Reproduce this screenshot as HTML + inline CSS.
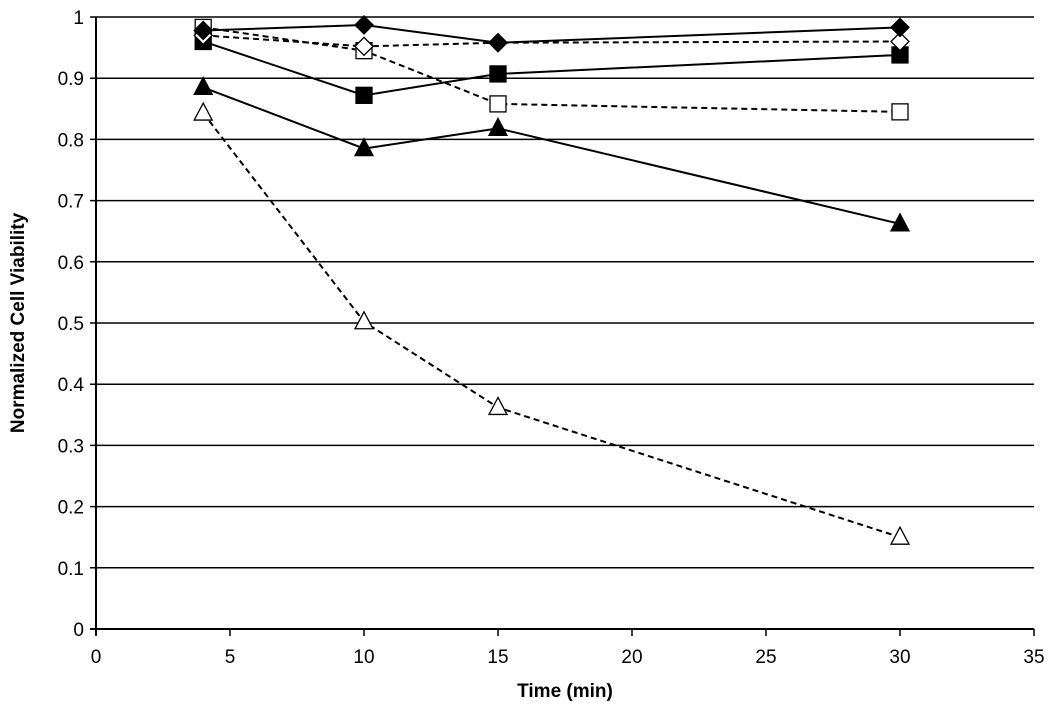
<!DOCTYPE html>
<html><head><meta charset="utf-8"><style>
body{margin:0;background:#fff}
svg{display:block;font-family:"Liberation Sans",Arial,sans-serif}
</style></head><body>
<svg id="chart" width="1050" height="723"></svg>
<script>
const xTicks=[0,5,10,15,20,25,30,35];
const yTicks=[0,0.1,0.2,0.3,0.4,0.5,0.6,0.7,0.8,0.9,1];
const times=[4,10,15,30];
const filledDiamond=[0.978,0.987,0.958,0.983];
const openDiamond=[0.970,0.952,0.958,0.960];
const filledSquare=[0.960,0.872,0.907,0.938];
const openSquare=[0.983,0.945,0.858,0.845];
const filledTriangle=[0.885,0.785,0.818,0.662];
const openTriangle=[0.843,0.502,0.362,0.150];
const NS="http://www.w3.org/2000/svg";
const svg=document.getElementById('chart');
const X0=96,X1=1034,Y0=629,Y1=17;
const xs=v=>X0+(v-0)/35*(X1-X0);
const ys=v=>Y0-(v-0)/1*(Y0-Y1);
function mk(tag,attrs,parent){const e=document.createElementNS(NS,tag);for(const k in attrs)e.setAttribute(k,attrs[k]);(parent||svg).appendChild(e);return e;}
// grid
yTicks.forEach(t=>{
  const l=mk('line',{x1:X0-6,x2:X1,y1:ys(t),y2:ys(t),stroke:'#000','stroke-width':t===0?2:1.5});
  
  
  const tx=mk('text',{x:X0-12,y:ys(t)+7,'text-anchor':'end','font-size':19});
  tx.textContent=t===0||t===1?String(t):t.toFixed(1);
  
  
});
const ax=mk('line',{x1:X0,x2:X0,y1:Y1,y2:Y0+6,stroke:'#000','stroke-width':2});


xTicks.forEach(t=>{
  const l=mk('line',{x1:xs(t),x2:xs(t),y1:Y0,y2:Y0+7,stroke:'#000','stroke-width':1.5});
  
  
  const tx=mk('text',{x:xs(t),y:Y0+34,'text-anchor':'middle','font-size':19});
  tx.textContent=t;
  
  
});
const xl=mk('text',{x:565,y:697,'text-anchor':'middle','font-size':19,'font-weight':'bold'});
xl.textContent='Time (min)';


const yl=mk('text',{x:0,y:0,'text-anchor':'middle','font-size':19,'font-weight':'bold',transform:'translate(24,323) rotate(-90)'});
yl.textContent='Normalized Cell Viability';



function marker(shape,fill,x,y,g){
  const s=fill?'#000':'#fff';
  if(shape==='d')return mk('polygon',{points:`${x},${y-9} ${x+9},${y} ${x},${y+9} ${x-9},${y}`,fill:s,stroke:'#000','stroke-width':1.3},g);
  if(shape==='s')return mk('rect',{x:x-8,y:y-8,width:16,height:16,fill:s,stroke:'#000','stroke-width':1.3},g);
  return mk('polygon',{points:`${x},${y-10} ${x+9},${y+7} ${x-9},${y+7}`,fill:s,stroke:'#000','stroke-width':1.3},g);
}
const series=[
 ['open-triangle',openTriangle,'t',false,true],
 ['filled-triangle',filledTriangle,'t',true,false],
 ['open-square',openSquare,'s',false,true],
 ['filled-square',filledSquare,'s',true,false],
 ['open-diamond',openDiamond,'d',false,true],
 ['filled-diamond',filledDiamond,'d',true,false]
];
series.forEach(([name,vals,shape,fill,dash])=>{
  const g=mk('g',{});
  
  
  const pts=vals.map((v,i)=>xs(times[i])+','+ys(v)).join(' ');
  const pl=mk('polyline',{points:pts,fill:'none',stroke:'#000','stroke-width':2,'stroke-dasharray':dash?'6,4':'none'},g);
  
  
  vals.forEach((v,i)=>{
    const m=marker(shape,fill,xs(times[i]),ys(v),g);
    
    
  });
});
</script>
</body></html>
